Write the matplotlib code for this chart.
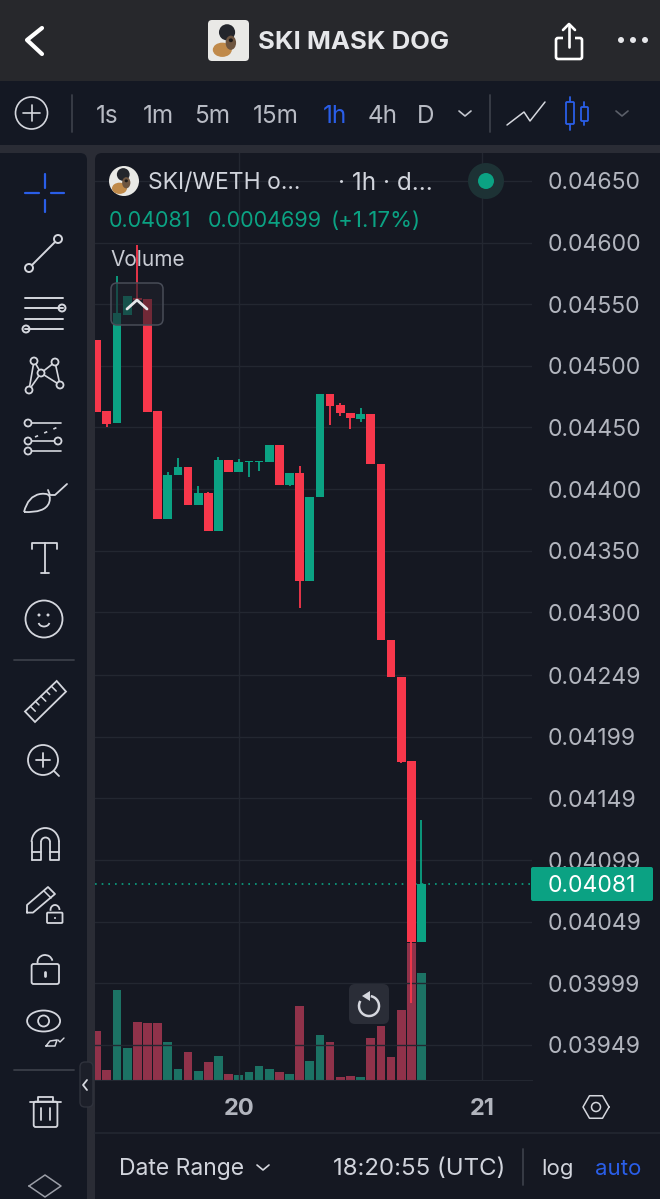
import numpy as np
import matplotlib
matplotlib.use("Agg")
import matplotlib.pyplot as plt
from matplotlib.patches import Circle, Ellipse, FancyBboxPatch, Polygon, Rectangle, Arc, PathPatch
from matplotlib.path import Path

plt.rcParams['font.family'] = ['Inter', 'DejaVu Sans']

# hourly candles
opens = [0.045210, 0.044630, 0.044535, 0.045413, 0.045551, 0.045543, 0.044630, 0.043760, 0.044112,
         0.044177, 0.043874, 0.043966, 0.043663, 0.044236, 0.044137, 0.044223, 0.044223, 0.044223,
         0.044360, 0.044034, 0.044128, 0.043252, 0.043934, 0.044772, 0.044680, 0.044621, 0.044567,
         0.044607, 0.044201, 0.042776, 0.042476, 0.041793, 0.040323]
closes = [0.044626, 0.044532, 0.045429, 0.045567, 0.045535, 0.044626, 0.043760, 0.044114, 0.044177,
          0.043874, 0.043966, 0.043663, 0.044236, 0.044137, 0.044218, 0.044231, 0.044231, 0.044360,
          0.044034, 0.044128, 0.043252, 0.043939, 0.044772, 0.044677, 0.044615, 0.044575, 0.044607,
          0.044200, 0.042776, 0.042476, 0.041786, 0.040323, 0.040800]
highs = [0.045210, 0.044630, 0.045729, 0.045567, 0.045981, 0.045543, 0.044630, 0.044137, 0.044250,
         0.044177, 0.044025, 0.043979, 0.044258, 0.044236, 0.044242, 0.044231, 0.044231, 0.044360,
         0.044360, 0.044128, 0.044188, 0.043939, 0.044772, 0.044772, 0.044701, 0.044621, 0.044656,
         0.044607, 0.044201, 0.042776, 0.042476, 0.041793, 0.041316]
lows = [0.044626, 0.044507, 0.044535, 0.045413, 0.045535, 0.044626, 0.043760, 0.043760, 0.044112,
        0.043874, 0.043874, 0.043663, 0.043663, 0.044137, 0.044137, 0.044101, 0.044150, 0.044223,
        0.044034, 0.044025, 0.043038, 0.043252, 0.043934, 0.044520, 0.044596, 0.044485, 0.044547,
        0.044200, 0.042776, 0.042476, 0.041774, 0.039831, 0.040323]
volumes = [49.3, 10, 90.3, 32, 58, 56.7, 56.7, 38, 11, 27.7, 8.7, 18.3, 24.3, 6, 4.7, 8.3, 14, 11.3,
           7.7, 6, 73.7, 19.3, 45.3, 38, 3, 3.7, 3, 42.3, 54, 23.3, 69.7, 137, 107]

price_ticks = [0.04650, 0.04600, 0.04550, 0.04500, 0.04450, 0.04400, 0.04350, 0.04300,
               0.04249, 0.04199, 0.04149, 0.04099, 0.04049, 0.03999, 0.03949]
price_labels = ["%.5f" % p for p in price_ticks]
day_ticks = [14, 38]
day_labels = ["20", "21"]
intervals = ["1s", "1m", "5m", "15m", "1h", "4h", "D"]
interval_x = [107, 158, 212.5, 276, 335, 383, 426]

RED = "#f7374b"
GREEN = "#0ba283"
BLUE = "#2a5ee8"
ICON = "#d5d7de"
PANEL = "#141823"
CHART = "#151822"
GRID = "#232731"


def to_fig(x0, y0, x1, y1):
    # pixel box (y from the top) to figure fractions
    return [x0 / 660, 1 - y1 / 1199, (x1 - x0) / 660, (y1 - y0) / 1199]


fig = plt.figure(figsize=(6.6, 11.99), dpi=100, facecolor="#2a2c35")

# background panels, in pixels
bg = fig.add_axes([0, 0, 1, 1], zorder=0)
bg.set_xlim(0, 660)
bg.set_ylim(1199, 0)
bg.axis("off")
bg.add_patch(Rectangle((0, 0), 660, 81, color="#27282c", lw=0))
bg.add_patch(Rectangle((0, 81), 660, 64, color=PANEL, lw=0))
bg.add_patch(FancyBboxPatch((-20, 153), 107, 1100, boxstyle="round,pad=0,rounding_size=7", fc=PANEL, ec="none"))
bg.add_patch(FancyBboxPatch((95, 153), 600, 1100, boxstyle="round,pad=0,rounding_size=7", fc=CHART, ec="none"))

# volume bars under the candles
x = np.arange(len(opens))
xlim = (-0.167, 42.89)
ax_vol = fig.add_axes(to_fig(95, 153, 532, 1080), zorder=1)
ax_vol.patch.set_visible(False)
ax_vol.set_xlim(xlim)
ax_vol.set_ylim(0, 927)
ax_vol.axis("off")
vol_colors = ["#1c7264" if c >= o else "#90324a" for o, c in zip(opens, closes)]
ax_vol.bar(x, volumes, width=0.86, color=vol_colors, linewidth=0)

# candles
ax = fig.add_axes(to_fig(95, 153, 532, 1080), zorder=2)
ax.patch.set_visible(False)
ax.set_xlim(xlim)
ax.set_ylim(0.039206, 0.046727)
for i in x:
    col = GREEN if closes[i] >= opens[i] else RED
    ax.vlines(i, lows[i], highs[i], color=col, linewidth=1.3, zorder=3)
    top = max(opens[i], closes[i])
    bottom = min(opens[i], closes[i])
    ax.bar(i, top - bottom, bottom=bottom, width=0.86, color=col, linewidth=0, zorder=4)

ax.yaxis.tick_right()
ax.set_yticks(price_ticks)
ax.set_yticklabels(price_labels, fontsize=16.5, color="#b2b5be")
ax.set_xticks(day_ticks)
ax.set_xticklabels(day_labels, fontsize=17, color="#b2b5be", fontweight="bold")
ax.tick_params(axis="y", length=0, pad=11.5)
ax.tick_params(axis="x", length=0, pad=13)
ax.grid(True, color=GRID, linewidth=1)
ax.set_axisbelow(True)
for side in ["top", "left", "right"]:
    ax.spines[side].set_visible(False)
ax.spines["bottom"].set_color(GRID)
ax.axhline(closes[-1], color=GREEN, linestyle=(0, (1, 3)), linewidth=1.2, zorder=2)

# everything on top of the chart, in pixels
ui = fig.add_axes([0, 0, 1, 1], zorder=3)
ui.patch.set_visible(False)
ui.set_xlim(0, 660)
ui.set_ylim(1199, 0)
ui.axis("off")


def label(px, py, s, size=15, color="#d1d4dc", ha="left", weight="normal"):
    ui.text(px, py, s, fontsize=size, color=color, ha=ha, va="center_baseline", fontweight=weight)


def line(pts, color=ICON, lw=1.4, **kw):
    pts = np.array(pts)
    ui.plot(pts[:, 0], pts[:, 1], color=color, lw=lw, solid_capstyle="round", solid_joinstyle="round", **kw)


def ring(px, py, r, color=ICON, lw=1.4, fc="none"):
    ui.add_patch(Circle((px, py), r, fc=fc, ec=color, lw=lw))


def box(x0, y0, x1, y1, r=2, fc="none", ec=ICON, lw=1.4, **kw):
    ui.add_patch(FancyBboxPatch((x0, y0), x1 - x0, y1 - y0, boxstyle="round,pad=0,rounding_size=%g" % r,
                                fc=fc, ec=ec, lw=lw, **kw))


def dog(cx, cy, s):
    # rough little picture of the masked dog
    ui.add_patch(Ellipse((cx - 0.3 * s, cy + 0.62 * s), 1.0 * s, 0.75 * s, fc="#c08a4a", ec="none", zorder=5))
    ui.add_patch(Ellipse((cx - 0.05 * s, cy - 0.3 * s), 0.85 * s, 0.85 * s, fc="#23262c", ec="none", zorder=6))
    ui.add_patch(Ellipse((cx + 0.15 * s, cy + 0.25 * s), 0.55 * s, 0.75 * s, fc="#6d5540", ec="none", zorder=7))
    ui.add_patch(Ellipse((cx + 0.15 * s, cy + 0.12 * s), 0.22 * s, 0.2 * s, fc="#1e1b1a", ec="none", zorder=8))


# header
line([(42, 28), (27, 40), (42, 54)], color="white", lw=3)
box(208, 20, 249, 61, r=4, fc="#e9e9e6", ec="none", lw=0, zorder=4)
dog(228, 38, 19)
label(258, 40, "SKI MASK DOG", size=18.5, color="#e6e7ea", weight="bold")
box(556, 38, 582, 59, r=2, ec="white", lw=1.9)
ui.add_patch(Rectangle((563, 30), 12, 10, fc="#27282c", ec="none", zorder=3))
line([(569, 25), (569, 47)], color="white", lw=1.9, zorder=4)
line([(563, 30), (569, 24), (575, 30)], color="white", lw=1.9, zorder=4)
for dx in [621, 633, 645]:
    ui.add_patch(Circle((dx, 40), 3, fc="#e6e7ea", ec="none"))

# interval row
ring(31.5, 113, 16, lw=1.2)
line([(23, 113), (40, 113)], lw=1.2)
line([(31.5, 105), (31.5, 121)], lw=1.2)
line([(72, 95), (72, 132)], color="#3a3e48", lw=1.3)
for name, px in zip(intervals, interval_x):
    label(px, 114, name, size=17.5, color=BLUE if name == "1h" else "#b8bbc4", ha="center")
line([(459, 111), (465, 116), (471, 111)], color="#c3c6ce", lw=1.2)
line([(490, 95), (490, 132)], color="#3a3e48", lw=1.3)
line([(507, 125), (524, 112), (530, 121), (545, 102)], lw=1.1)
line([(570, 97), (570, 130)], color=BLUE, lw=1.3)
box(566, 102, 574, 124, r=1, ec=BLUE, lw=1.3, fc=PANEL, zorder=4)
line([(584, 102), (584, 125)], color=BLUE, lw=1.3)
box(581, 107, 588, 121, r=1, ec=BLUE, lw=1.3, fc=PANEL, zorder=4)
line([(616, 111), (622, 116), (628, 111)], color="#5b5f69", lw=1.2)

# legend over the chart
ui.add_patch(Circle((124, 181), 15, fc="#e9e9e6", ec="none"))
dog(124, 179, 15)
label(148, 181, "SKI/WETH o...", size=16.5, color="#d1d4dc")
label(338, 181, "· 1h · d...", size=17.5, color="#d1d4dc")
ui.add_patch(Circle((486, 181), 18, fc="#1d3235", ec="none"))
ui.add_patch(Circle((486, 181), 8, fc=GREEN, ec="none"))
label(109, 219, "0.04081", size=15.5, color=GREEN)
label(208, 219, "0.0004699", size=15.5, color=GREEN)
label(331, 219, "(+1.17%)", size=16, color=GREEN)
label(110, 258, "Volume", size=15, color="#c8cbd3")

# collapse button
box(111, 283, 163, 325, r=6, fc=(0.12, 0.13, 0.17, 0.62), ec="#484c57", lw=1.1)
line([(127, 309), (137, 300), (147, 309)], color="#e6e7ea", lw=2)

# last price tag
box(531, 867, 653, 901, r=2, fc=GREEN, ec="none", lw=0)
label(592, 884, "0.04081", size=16.5, color="white", ha="center")

# reset button
box(349, 984, 389, 1024, r=6, fc="#2a2d37", ec="none", lw=0)
ui.add_patch(Arc((369, 1006), 20, 20, theta1=-80, theta2=210, color=ICON, lw=1.8, zorder=4))
ui.add_patch(Polygon([(370, 991), (370, 1001), (362, 996)], fc=ICON, ec="none", zorder=4))

# bottom bar
line([(95, 1133), (660, 1133)], color=GRID, lw=1.2)
hex_a = np.radians(np.arange(0, 361, 60))
line(np.c_[596 + 13 * np.cos(hex_a), 1107 + 13 * np.sin(hex_a)], lw=1.1)
ring(596, 1107, 4.5, lw=1.1)
label(119, 1167, "Date Range", size=16.5)
line([(257, 1165), (263, 1170), (269, 1165)], lw=1.2)
label(333, 1167, "18:20:55 (UTC)", size=17.3)
line([(523, 1149), (523, 1185)], color="#3a3e48", lw=1.3)
label(541, 1167, "log", size=16)
label(595, 1167, "auto", size=16, color=BLUE)

# drawing tools on the left
line([(25, 193), (39, 193)], color=BLUE, lw=1.6)
line([(51, 193), (64, 193)], color=BLUE, lw=1.6)
line([(45, 174), (45, 188)], color=BLUE, lw=1.6)
line([(45, 200), (45, 212)], color=BLUE, lw=1.6)

line([(32, 265), (55, 242)])
ring(29, 268, 4)
ring(58, 239, 4)

for ly in [298, 308, 319, 329]:
    line([(25, ly), (63, ly)], zorder=2)
for cx, cy in [(62, 308), (26, 329)]:
    ring(cx, cy, 3.5, fc=PANEL)

line([(29, 390), (34, 361), (41, 373), (55, 362), (60, 385), (41, 373), (29, 390)], lw=1.2)
for cx, cy in [(34, 361), (55, 362), (41, 373), (60, 385), (29, 390)]:
    ui.add_patch(Circle((cx, cy), 3.5, fc=PANEL, ec=ICON, lw=1.3, zorder=3))

for ly in [423, 441, 451]:
    line([(28, ly), (61, ly)], lw=1.2)
line([(35, 437), (58, 427)], lw=1.2, linestyle=(0, (2, 4)))
for cx, cy in [(28, 423), (28, 441), (58, 441), (28, 451)]:
    ui.add_patch(Circle((cx, cy), 3.5, fc=PANEL, ec=ICON, lw=1.3, zorder=3))

leaf = Path([(24, 512), (28, 496), (40, 494), (53, 492), (49, 503), (45, 513), (24, 512)],
            [Path.MOVETO, Path.CURVE3, Path.CURVE3, Path.CURVE3, Path.CURVE3, Path.CURVE3, Path.CURVE3])
ui.add_patch(PathPatch(leaf, fc="none", ec=ICON, lw=1.3))
line([(48, 490), (50, 495), (55, 495), (67, 484)], lw=1.3)

line([(32, 549), (32, 543), (57, 543), (57, 549)], lw=1.3)
line([(45, 543), (45, 573)], lw=1.3)
line([(41, 573), (49, 573)], lw=1.3)

ring(44, 619, 18.5, lw=1.3)
ui.add_patch(Circle((39, 615), 1.5, fc=ICON, ec="none"))
ui.add_patch(Circle((48, 615), 1.5, fc=ICON, ec="none"))
ui.add_patch(Arc((44, 622), 11, 9, theta1=10, theta2=170, color=ICON, lw=1.3))

line([(14, 660), (74, 660)], color="#3a3e48", lw=1.3)

ui.add_patch(Polygon([(25, 711.5), (56.7, 681), (66, 691.6), (35, 722)], closed=True, fc="none", ec=ICON, lw=1.3))
for t, n in zip([0.17, 0.33, 0.5, 0.67, 0.83], [7, 5, 7, 5, 7]):
    px = 25 + t * 31.7
    py = 711.5 - t * 30.5
    line([(px, py), (px + 0.7 * n, py + 0.7 * n)], lw=1.1)

ring(43, 760, 15, lw=1.3)
line([(54, 771), (59, 776)], lw=1.3)
line([(36, 760), (50, 760)], lw=1.3)
line([(43, 753), (43, 767)], lw=1.3)

line([(31.6, 860), (31.6, 842)], lw=1.3)
ui.add_patch(Arc((45.3, 842), 27.4, 28, theta1=180, theta2=360, color=ICON, lw=1.3))
line([(59, 842), (59, 860), (50, 860), (50, 842)], lw=1.3)
line([(31.6, 860), (41, 860), (41, 842)], lw=1.3)
ui.add_patch(Arc((45.5, 842), 9, 9, theta1=180, theta2=360, color=ICON, lw=1.3))
line([(31.6, 852), (41, 852)], lw=1.3)
line([(50, 852), (59, 852)], lw=1.3)

line([(27, 912.6), (27, 905), (48, 887), (55, 894), (33, 912.6), (27, 912.6)], lw=1.3)
line([(44, 891), (51, 898)], lw=1.1)
box(47, 912.6, 62.5, 923, r=1, lw=1.3)
ui.add_patch(Arc((55, 910), 9, 10, theta1=170, theta2=360, color=ICON, lw=1.3))
ui.add_patch(Circle((55, 918), 1, fc=ICON, ec="none"))

box(31.6, 964, 59, 984, r=2, lw=1.3)
ui.add_patch(Arc((45, 962), 15, 14, theta1=170, theta2=350, color=ICON, lw=1.3))
line([(45, 972), (45, 976)], lw=2)

ui.add_patch(Ellipse((43.6, 1021), 33, 21, fc="none", ec=ICON, lw=1.3))
ring(43.6, 1021, 5.5, lw=1.3)
line([(46, 1046), (50, 1041), (57, 1040), (55, 1046), (46, 1046)], lw=1.1)
line([(58, 1040), (60, 1042), (64, 1038)], lw=1)

line([(14, 1069.6), (74, 1069.6)], color="#3a3e48", lw=1.3)
box(80, 1062, 93, 1107, r=5, fc="#1c1f29", ec="#2f323c", lw=1)
line([(87, 1080), (83, 1085), (87, 1090)], lw=1.3)

line([(30, 1101.6), (61, 1101.6)], lw=1.3)
line([(38, 1101.6), (38, 1097), (53, 1097), (53, 1101.6)], lw=1.3)
box(33.7, 1101.6, 57.4, 1127, r=2, lw=1.3)
line([(40.5, 1108), (40.5, 1120)], lw=1.3)
line([(50, 1108), (50, 1120)], lw=1.3)

line([(29, 1186), (45, 1175), (61, 1186), (45, 1197), (29, 1186)], lw=1.1, color="#9b9ea7")

fig.savefig("out.png", dpi=100, facecolor=fig.get_facecolor())
